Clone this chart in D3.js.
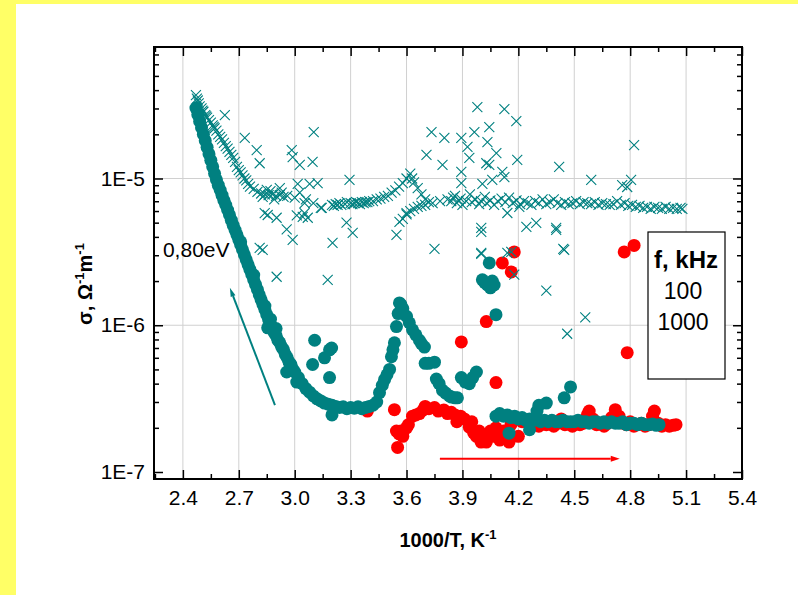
<!DOCTYPE html>
<html><head><meta charset="utf-8">
<script src="https://cdn.jsdelivr.net/npm/d3@7"></script>
<style>
html,body{margin:0;padding:0;background:#fff;}
svg{display:block;font-family:"Liberation Sans",Arial,sans-serif;}
</style></head><body>
<svg id="chart" width="798" height="595"></svg>
<script>
// ---------- data ----------
const xTicks = [2.4, 2.7, 3.0, 3.3, 3.6, 3.9, 4.2, 4.5, 4.8, 5.1, 5.4];
const yTicks = [1e-7, 1e-6, 1e-5];
const yTickLabels = ["1E-7", "1E-6", "1E-5"];
const xTitle = "1000/T, K";
const legendTitle = "f, kHz";
const legendLabels = ["100", "1000"];
const activationLabel = "0,80eV";

// crosses: dense band
const crossBand = [
[2.470,3.7e-5],[2.475,3.5e-5],[2.480,3.4e-5],[2.485,3.25e-5],[2.49,3.1e-5],[2.50,3.0e-5],[2.505,2.9e-5],[2.51,2.85e-5],
[2.52,2.7e-5],[2.525,2.65e-5],[2.53,2.6e-5],[2.54,2.5e-5],[2.55,2.4e-5],[2.56,2.3e-5],[2.565,2.25e-5],[2.57,2.2e-5],
[2.58,2.12e-5],[2.59,2.0e-5],[2.60,1.92e-5],[2.61,1.85e-5],[2.62,1.75e-5],[2.63,1.66e-5],[2.64,1.6e-5],[2.65,1.52e-5],
[2.66,1.45e-5],[2.67,1.38e-5],[2.68,1.3e-5],[2.69,1.2e-5],[2.70,1.14e-5],[2.71,1.1e-5],[2.72,1.05e-5],[2.73,1.0e-5],
[2.74,9.7e-6],[2.75,9.2e-6],[2.76,8.8e-6],[2.78,8.5e-6],[2.80,8.1e-6],[2.82,7.9e-6],[2.84,7.8e-6],[2.86,7.7e-6],
[2.88,7.8e-6],[2.90,7.6e-6],[2.92,7.7e-6],[2.94,7.5e-6],[2.96,7.6e-6],[2.87,8.2e-6],[2.89,7.2e-6],[2.93,8.0e-6],
[3.00,7.4e-6],[3.06,7.2e-6],[3.10,6.8e-6],[3.14,6.3e-6],
[3.20,6.6e-6],[3.21,6.5e-6],[3.22,6.7e-6],[3.23,6.6e-6],[3.24,6.8e-6],[3.25,6.6e-6],[3.27,6.7e-6],[3.28,6.9e-6],
[3.30,6.8e-6],[3.31,6.7e-6],[3.32,6.8e-6],[3.33,6.9e-6],[3.34,6.8e-6],[3.35,6.7e-6],[3.36,6.9e-6],[3.37,6.8e-6],
[3.38,6.9e-6],[3.39,6.9e-6],[3.40,7.0e-6],[3.42,7.0e-6],[3.44,7.2e-6],[3.46,7.3e-6],[3.48,7.5e-6],[3.50,7.6e-6],
[3.52,8.0e-6],[3.54,8.3e-6],[3.56,8.8e-6],[3.58,9.3e-6],[3.60,1.0e-5],[3.62,1.08e-5],[3.63,1.0e-5],[3.64,9.4e-6],
[3.66,8.6e-6],[3.68,7.8e-6],[3.70,7.2e-6],[3.72,6.9e-6],
[3.58,5.3e-6],[3.60,5.7e-6],[3.62,6.0e-6],[3.64,6.2e-6],[3.66,6.4e-6],[3.68,6.5e-6],[3.70,6.6e-6],[3.74,6.8e-6],
[3.78,7.0e-6],[3.82,7.2e-6],[3.85,7.4e-6],[3.88,7.1e-6],
[3.84,7.0e-6],[3.86,7.6e-6],[3.87,6.8e-6],[3.89,7.3e-6],[3.90,6.6e-6],[3.92,7.0e-6],[3.94,7.8e-6],[3.95,6.9e-6],
[3.97,7.2e-6],[3.99,6.7e-6],[4.00,7.0e-6],[4.02,7.5e-6],[4.03,6.8e-6],[4.05,7.1e-6],[4.07,6.6e-6],[4.09,7.0e-6],
[4.11,7.3e-6],[4.13,6.9e-6],[4.15,7.4e-6],[4.17,6.8e-6],[4.19,7.1e-6],[4.21,6.7e-6],[4.23,7.0e-6],[4.25,6.8e-6],
[4.27,6.6e-6],[4.29,7.0e-6],[4.31,6.8e-6],[4.33,7.2e-6],[4.35,6.7e-6],[4.37,6.9e-6],[4.39,7.2e-6],[4.41,6.8e-6],
[4.43,6.6e-6],[4.45,6.9e-6],[4.47,6.7e-6],[4.49,6.8e-6],[4.51,7.0e-6],[4.53,6.7e-6],[4.55,6.9e-6],[4.57,6.8e-6],
[4.59,6.7e-6],[4.61,6.9e-6],[4.63,6.6e-6],[4.65,6.8e-6],[4.67,6.7e-6],[4.69,6.6e-6],[4.71,6.7e-6],[4.73,7.0e-6],
[4.75,6.6e-6],[4.77,6.8e-6],[4.79,6.5e-6],[4.81,6.6e-6],[4.83,6.4e-6],[4.85,6.5e-6],[4.87,6.3e-6],[4.89,6.4e-6],
[4.91,6.2e-6],[4.93,6.4e-6],[4.95,6.3e-6],[4.97,6.2e-6],[4.99,6.4e-6],[5.01,6.2e-6],[5.03,6.3e-6],[5.05,6.2e-6],
[5.07,6.3e-6],[5.08,6.2e-6]
];
// crosses: scattered outliers
const crossScatter = [
[2.625,2.7e-5],[2.732,1.89e-5],[2.796,1.56e-5],[2.812,1.27e-5],[3.102,2.07e-5],[2.984,1.56e-5],[2.989,1.40e-5],
[3.027,1.24e-5],[3.096,1.30e-5],[3.294,9.8e-6],[3.123,9.3e-6],[3.080,9.2e-6],[3.016,9.2e-6],[3.027,8.0e-6],
[2.850,8.35e-6],[2.828,7.5e-6],[2.920,8.6e-6],[2.839,5.8e-6],[2.903,5.4e-6],[2.957,4.5e-6],[3.053,6.8e-6],
[3.053,5.8e-6],[3.070,5.4e-6],[3.145,6.3e-6],[3.011,5.6e-6],[3.278,5.0e-6],[3.311,4.26e-6],[3.546,4.13e-6],
[3.562,5.06e-6],[3.600,5.8e-6],[3.707,1.45e-5],[3.734,2.07e-5],[3.803,1.89e-5],[3.793,1.24e-5],[3.894,1.89e-5],
[3.927,1.64e-5],[3.937,1.38e-5],[3.894,1.11e-5],[3.964,2.07e-5],[3.980,3.06e-5],[4.044,2.24e-5],[4.034,1.77e-5],
[4.044,1.24e-5],[4.060,9.8e-6],[4.007,9.2e-6],[4.001,4.6e-6],[3.894,9.3e-6],[4.125,2.97e-5],[4.189,2.46e-5],
[4.082,1.49e-5],[4.194,1.34e-5],[4.028,1.27e-5],[4.114,1.11e-5],[4.125,1.02e-5],[4.419,1.2e-5],[4.821,1.69e-5],
[4.001,3.11e-6],[4.162,3.16e-6],[4.243,4.68e-6],[4.296,4.98e-6],[4.403,4.6e-6],[4.446,3.26e-6],[4.141,5.82e-6],
[4.205,6.4e-6],[4.591,9.8e-6],[4.757,9.0e-6],[4.805,9.8e-6],[4.784,8.75e-6],[2.812,3.37e-6],[2.828,3.26e-6],
[2.903,2.14e-6],[3.177,2.04e-6],[3.203,3.64e-6],[2.989,3.82e-6],[2.855,5.64e-6],[3.043,5.47e-6],[3.750,3.31e-6],
[4.001,3.06e-6],[4.141,3.11e-6],[4.178,2.21e-6],[4.350,1.72e-6],[4.441,3.31e-6],[4.559,1.13e-6],[4.462,8.75e-7],
[4.001,4.33e-6],[4.403,4.46e-6]
];
// 100 kHz (teal circles)
const series100 = [
[2.47,3.02e-5],[2.48,2.72e-5],[2.49,2.45e-5],[2.50,2.22e-5],[2.51,2.0e-5],[2.52,1.81e-5],[2.53,1.63e-5],[2.54,1.47e-5],
[2.55,1.33e-5],[2.56,1.20e-5],[2.57,1.08e-5],[2.58,9.8e-6],[2.59,9.0e-6],[2.60,8.35e-6],[2.61,7.7e-6],[2.62,7.1e-6],
[2.63,6.6e-6],[2.64,6.1e-6],[2.65,5.65e-6],[2.66,5.2e-6],[2.67,4.8e-6],[2.68,4.45e-6],[2.69,4.13e-6],[2.70,3.82e-6],
[2.71,3.53e-6],[2.72,3.27e-6],[2.73,3.02e-6],[2.74,2.79e-6],[2.75,2.58e-6],[2.76,2.39e-6],[2.77,2.21e-6],[2.78,2.04e-6],
[2.79,1.89e-6],[2.80,1.75e-6],[2.81,1.61e-6],[2.82,1.49e-6],[2.83,1.38e-6],[2.84,1.28e-6],[2.85,1.18e-6],[2.86,1.09e-6],
[2.87,1.01e-6],[2.88,9.5e-7],[2.89,8.9e-7],[2.90,8.5e-7],[2.91,7.9e-7],[2.92,7.6e-7],[2.93,7.1e-7],[2.94,6.8e-7],
[2.95,6.3e-7],[2.96,6.0e-7],[2.97,5.6e-7],[2.98,5.4e-7],[2.99,5.0e-7],[3.00,4.8e-7],[3.02,4.4e-7],[3.04,4.0e-7],
[3.06,3.7e-7],[3.08,3.5e-7],[3.10,3.3e-7],[3.12,3.15e-7],[3.14,3.05e-7],[3.16,2.95e-7],[3.18,2.9e-7],[3.20,2.85e-7],
[2.71,3.7e-6],[2.78,2.2e-6],[2.84,1.35e-6],[2.855,9.6e-7],[2.87,1.1e-6],[2.90,9.5e-7],[2.957,4.8e-7],[3.011,4.1e-7],
[3.107,7.9e-7],[3.198,7.0e-7],[3.16,6.0e-7],[3.096,5.4e-7],[3.187,4.4e-7],[3.20,2.45e-7],[3.187,6.8e-7],
[3.22,2.8e-7],[3.24,2.75e-7],[3.26,2.78e-7],[3.28,2.7e-7],[3.30,2.75e-7],[3.32,2.72e-7],[3.34,2.78e-7],[3.36,2.7e-7],
[3.38,2.75e-7],[3.40,2.8e-7],[3.42,2.85e-7],[3.44,3.0e-7],[3.455,3.47e-7],[3.47,3.9e-7],[3.482,4.26e-7],[3.495,4.6e-7],
[3.509,5.0e-7],[3.519,6.1e-7],[3.527,6.8e-7],[3.535,7.6e-7],[3.546,9.8e-7],[3.555,1.2e-6],[3.562,1.42e-6],[3.57,1.38e-6],
[3.58,1.3e-6],[3.60,1.15e-6],[3.615,1.04e-6],[3.632,9.3e-7],[3.65,8.6e-7],[3.669,7.9e-7],[3.68,7.5e-7],[3.696,7.1e-7],
[3.70,5.5e-7],[3.72,5.5e-7],[3.75,5.6e-7],[3.76,4.3e-7],[3.775,4.0e-7],[3.793,3.6e-7],[3.81,3.45e-7],[3.83,3.3e-7],
[3.841,3.24e-7],[3.86,3.2e-7],[3.873,3.2e-7],[3.894,4.4e-7],[3.915,4.1e-7],[3.937,4.0e-7],[3.955,4.4e-7],[3.975,4.8e-7],
[4.044,2.66e-6],[4.007,2.04e-6],[4.02,1.95e-6],[4.034,1.88e-6],[4.07,1.88e-6],[4.05,1.8e-6],[4.08,1.18e-6],[4.06,2.0e-6],
[4.08,2.4e-7],[4.10,2.5e-7],[4.12,2.4e-7],[4.14,2.45e-7],[4.15,1.84e-7],[4.16,2.35e-7],[4.18,2.4e-7],[4.20,2.3e-7],
[4.22,2.35e-7],[4.24,2.25e-7],[4.26,1.94e-7],[4.26,2.3e-7],[4.28,2.25e-7],[4.30,2.6e-7],[4.31,2.85e-7],[4.32,2.2e-7],
[4.34,2.25e-7],[4.35,2.95e-7],[4.36,2.2e-7],[4.38,2.25e-7],[4.40,2.2e-7],[4.42,2.2e-7],[4.446,3.2e-7],[4.44,2.25e-7],
[4.46,2.2e-7],[4.48,3.8e-7],[4.48,2.2e-7],[4.50,2.2e-7],[4.52,2.25e-7],[4.54,2.2e-7],[4.56,2.2e-7],[4.58,2.15e-7],
[4.60,2.2e-7],[4.62,2.2e-7],[4.64,2.15e-7],[4.66,2.2e-7],[4.68,2.15e-7],[4.70,2.2e-7],[4.72,2.15e-7],[4.74,2.15e-7],
[4.76,2.2e-7],[4.78,2.1e-7],[4.80,2.15e-7],[4.82,2.15e-7],[4.84,2.1e-7],[4.86,2.15e-7],[4.88,2.1e-7],[4.90,2.1e-7],
[4.92,2.12e-7],[4.94,2.08e-7],[4.955,2.1e-7]
];
// 1000 kHz (red circles)
const series1000 = [
[3.39,2.6e-7],[3.535,2.66e-7],[3.546,1.9e-7],[3.552,1.47e-7],[3.56,1.82e-7],[3.57,1.9e-7],[3.58,1.75e-7],[3.60,2.0e-7],
[3.61,2.1e-7],[3.632,2.4e-7],[3.65,2.45e-7],[3.669,2.5e-7],[3.69,2.65e-7],[3.70,2.8e-7],[3.72,2.7e-7],[3.75,2.75e-7],
[3.77,2.6e-7],[3.80,2.65e-7],[3.82,2.5e-7],[3.84,2.55e-7],[3.86,2.45e-7],[3.87,2.2e-7],[3.89,2.4e-7],[3.91,2.3e-7],
[3.937,2.02e-7],[3.95,2.2e-7],[3.96,1.85e-7],[3.975,1.75e-7],[3.99,1.9e-7],[4.00,1.6e-7],[4.02,1.7e-7],[4.028,1.6e-7],
[4.05,1.9e-7],[4.07,1.75e-7],[4.08,2.0e-7],[4.10,1.65e-7],[4.12,1.9e-7],[4.15,1.6e-7],[4.16,2.1e-7],[4.20,1.75e-7],
[4.22,2.2e-7],[4.25,2.2e-7],[4.27,2.1e-7],[4.29,2.15e-7],[4.31,2.05e-7],[4.33,2.15e-7],[4.35,2.1e-7],[4.37,2.2e-7],
[4.39,2.05e-7],[4.41,2.15e-7],[4.43,2.3e-7],[4.45,2.1e-7],[4.47,2.15e-7],[4.49,2.05e-7],[4.51,2.15e-7],[4.53,2.1e-7],
[4.55,2.15e-7],[4.57,2.45e-7],[4.58,2.6e-7],[4.60,2.3e-7],[4.62,2.1e-7],[4.64,2.15e-7],[4.66,2.05e-7],[4.68,2.15e-7],
[4.70,2.35e-7],[4.72,2.66e-7],[4.74,2.4e-7],[4.76,2.15e-7],[4.78,2.1e-7],[4.80,2.2e-7],[4.82,2.05e-7],[4.84,2.1e-7],
[4.86,2.15e-7],[4.88,2.05e-7],[4.90,2.1e-7],[4.92,2.4e-7],[4.93,2.6e-7],[4.95,2.15e-7],[4.97,2.05e-7],[4.99,2.1e-7],
[5.01,2.05e-7],[5.03,2.08e-7],[5.046,2.1e-7],
[3.894,7.7e-7],[4.028,1.06e-6],[4.08,4.07e-7],[4.114,2.66e-6],[4.162,2.31e-6],[4.178,3.16e-6],
[4.768,3.16e-6],[4.821,3.5e-6],[4.784,6.5e-7]
];
// annotation anchors in data units
const tealArrow = [[2.894,2.86e-7],[2.652,1.8e-6]];
const redArrow = [[3.779,1.23e-7],[4.744,1.23e-7]];
const labelPos = [2.293,2.92e-6];

// ---------- layout ----------
const W = 798, H = 595;
const L = 154, R = 742, T = 47, B = 479;
const TEAL = "#008080", RED = "#ff0000";

const svg = d3.select("#chart");
svg.append("rect").attr("width", W).attr("height", H).attr("fill", "#fff");
svg.append("rect").attr("x", 0).attr("y", 0).attr("width", 16).attr("height", H).attr("fill", "#ffff66");
svg.append("rect").attr("x", 0).attr("y", 0).attr("width", W).attr("height", 4).attr("fill", "#ffff66");

const x = d3.scaleLinear().domain([2.245, 5.4]).range([L, R]);
const y = d3.scaleLog().domain([8.96e-8, 7.87e-5]).range([B, T]);

// grid
const g = svg.append("g");
g.selectAll("line.vg").data(xTicks.filter(v => v < 5.35)).enter().append("line")
  .attr("x1", d => x(d)).attr("x2", d => x(d)).attr("y1", T).attr("y2", B)
  .attr("stroke", "#d0d0d0").attr("stroke-width", 1);
g.selectAll("line.hg").data([1e-6, 1e-5]).enter().append("line")
  .attr("x1", L).attr("x2", R).attr("y1", d => y(d)).attr("y2", d => y(d))
  .attr("stroke", "#d0d0d0").attr("stroke-width", 1);

// data
const plot = svg.append("g");
plot.selectAll("circle.r").data(series1000).enter().append("circle")
  .attr("cx", d => x(d[0])).attr("cy", d => y(d[1])).attr("r", 6.5).attr("fill", RED);
plot.selectAll("circle.t").data(series100).enter().append("circle")
  .attr("cx", d => x(d[0])).attr("cy", d => y(d[1])).attr("r", 6.5).attr("fill", TEAL);
const crossPath = "M-5,-5L5,5M5,-5L-5,5";
plot.selectAll("path.x").data(crossBand.concat(crossScatter)).enter().append("path")
  .attr("d", crossPath).attr("transform", d => `translate(${x(d[0])},${y(d[1])})`)
  .attr("stroke", TEAL).attr("stroke-width", 1.1).attr("fill", "none");

// arrows
function arrow(pts, color, width, headLen, headW) {
  const x1 = x(pts[0][0]), y1 = y(pts[0][1]), x2 = x(pts[1][0]), y2 = y(pts[1][1]);
  const a = Math.atan2(y2 - y1, x2 - x1);
  const bx = x2 - headLen * Math.cos(a), by = y2 - headLen * Math.sin(a);
  svg.append("line").attr("x1", x1).attr("y1", y1).attr("x2", bx).attr("y2", by)
    .attr("stroke", color).attr("stroke-width", width);
  const px = -Math.sin(a) * headW / 2, py = Math.cos(a) * headW / 2;
  svg.append("path").attr("d", `M${x2},${y2}L${bx + px},${by + py}L${bx - px},${by - py}Z`).attr("fill", color);
}
arrow(tealArrow, TEAL, 2, 9, 5);
arrow(redArrow, RED, 2, 9, 6);

svg.append("text").attr("x", x(labelPos[0])).attr("y", y(labelPos[1]))
  .attr("font-size", 21).attr("fill", "#000").text(activationLabel);

// axes (ticks inside)
const xMinor = d3.range(2.25, 5.41, 0.15).filter(v => !xTicks.some(t => Math.abs(t - v) < 1e-6));
const yMinor = [];
[1e-7, 1e-6, 1e-5].forEach(dec => { for (let k = 2; k <= 9; k++) { const v = dec * k; if (v < 7.87e-5) yMinor.push(v); } });
yMinor.push(9e-8);

function styleAxis(sel) {
  sel.select(".domain").remove();
  sel.selectAll(".tick line").attr("stroke", "#000").attr("stroke-width", 1.5);
  sel.selectAll("text").attr("font-size", 21).attr("fill", "#000").attr("font-family", '"Liberation Sans", Arial, sans-serif');
}
const ax = svg.append("g");
ax.append("g").attr("transform", `translate(0,${B})`)
  .call(d3.axisBottom(x).tickValues(xTicks).tickSize(-9).tickPadding(11).tickFormat(d3.format(".1f"))).call(styleAxis);
ax.append("g").attr("transform", `translate(0,${B})`)
  .call(d3.axisBottom(x).tickValues(xMinor).tickSize(-5).tickFormat("")).call(styleAxis);
ax.append("g").attr("transform", `translate(0,${T})`)
  .call(d3.axisTop(x).tickValues(xTicks).tickSize(-9).tickFormat("")).call(styleAxis);
ax.append("g").attr("transform", `translate(0,${T})`)
  .call(d3.axisTop(x).tickValues(xMinor).tickSize(-5).tickFormat("")).call(styleAxis);
ax.append("g").attr("transform", `translate(${L},0)`)
  .call(d3.axisLeft(y).tickValues(yTicks).tickSize(-9).tickPadding(9).tickFormat((d, i) => yTickLabels[i])).call(styleAxis);
ax.append("g").attr("transform", `translate(${L},0)`)
  .call(d3.axisLeft(y).tickValues(yMinor).tickSize(-5).tickFormat("")).call(styleAxis);
ax.append("g").attr("transform", `translate(${R},0)`)
  .call(d3.axisRight(y).tickValues(yTicks).tickSize(-9).tickFormat("")).call(styleAxis);
ax.append("g").attr("transform", `translate(${R},0)`)
  .call(d3.axisRight(y).tickValues(yMinor).tickSize(-5).tickFormat("")).call(styleAxis);

// frame
svg.append("rect").attr("x", L).attr("y", T).attr("width", R - L).attr("height", B - T)
  .attr("fill", "none").attr("stroke", "#000").attr("stroke-width", 2);

// axis titles
const xt = svg.append("text").attr("x", (L + R) / 2).attr("y", 547).attr("text-anchor", "middle")
  .attr("font-size", 20).attr("font-weight", "bold").attr("fill", "#000");
xt.append("tspan").text(xTitle);
xt.append("tspan").attr("font-size", 13).attr("dy", -8).text("-1");

const yt = svg.append("text").attr("transform", `translate(92,284) rotate(-90)`).attr("text-anchor", "middle")
  .attr("font-size", 20).attr("font-weight", "bold").attr("fill", "#000");
yt.append("tspan").text("σ, Ω");
yt.append("tspan").attr("font-size", 13).attr("dy", -8).text("-1");
yt.append("tspan").attr("dy", 8).text("m");
yt.append("tspan").attr("font-size", 13).attr("dy", -8).text("-1");

// legend
const lg = svg.append("g");
lg.append("rect").attr("x", 648).attr("y", 232).attr("width", 77).attr("height", 147)
  .attr("fill", "#fff").attr("stroke", "#000").attr("stroke-width", 1.2);
lg.append("text").attr("x", 686).attr("y", 268).attr("text-anchor", "middle")
  .attr("font-size", 24).attr("font-weight", "bold").attr("fill", "#000").text(legendTitle);
lg.selectAll("text.l").data(legendLabels).enter().append("text")
  .attr("x", 683).attr("y", (d, i) => 299 + i * 31).attr("text-anchor", "middle")
  .attr("font-size", 23).attr("fill", "#000").text(d => d);
</script>
</body></html>
